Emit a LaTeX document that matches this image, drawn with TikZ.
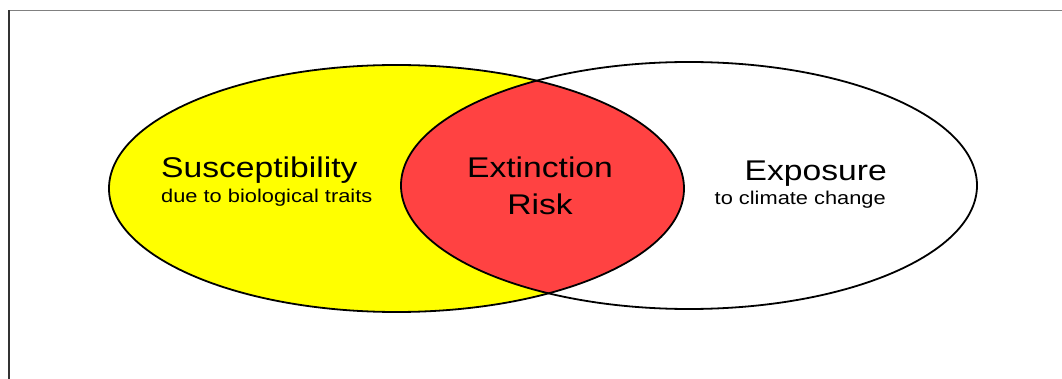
\documentclass[tikz,border=0pt]{standalone}
\usepackage{fontspec}
\usepackage{tikz}
\usetikzlibrary{positioning}
\newfontfamily\vennfont[FakeStretch=1.18]{Liberation Sans}
\definecolor{riskred}{RGB}{255,66,66}
\definecolor{suscyellow}{RGB}{255,255,0}
\tikzstyle{Title}=[inner sep=0, font=\vennfont\fontsize{28.5}{34}\selectfont]
\tikzstyle{Sub}=[inner sep=0, font=\vennfont\fontsize{18.5}{22}\selectfont]
\tikzstyle{Rim}=[draw=black, line width=1.8pt]

\begin{document}
\begin{tikzpicture}[x=1pt, y=-1pt]
    \useasboundingbox (0,0) rectangle (1062,379);
    % frame, cut off at right and bottom
    \coordinate (tl) at (9,10.5);
    \coordinate (tr) at (1062,10.5);
    \coordinate (bl) at (9,379);
    \draw[gray, line width=1.2pt] (tl) -- (tr);
    \draw[black!80, line width=2pt] (tl) -- (bl);

    % the two sets and their overlap
    \fill[suscyellow] (396.5,188.5) ellipse [x radius=287.5, y radius=123.5];
    \begin{scope}
        \clip (396.5,188.5) ellipse [x radius=287.5, y radius=123.5];
        \fill[riskred] (689,185.5) ellipse [x radius=288, y radius=123.5];
    \end{scope}
    \draw[Rim] (396.5,188.5) ellipse [x radius=287.5, y radius=123.5];
    \draw[Rim] (689,185.5) ellipse [x radius=288, y radius=123.5];

    \path
    (161,178) node[Title, anchor=base west] (susc) {Susceptibility}
    (161,203) node[Sub, anchor=base west] (susctxt) {due to biological traits}
    (540,178) node[Title, anchor=base] (ext) {Extinction}
    (540,215) node[Title, anchor=base] (risk) {Risk}
    (887,181) node[Title, anchor=base east] (expo) {Exposure}
    (886,205) node[Sub, anchor=base east] (expotxt) {to climate change};
\end{tikzpicture}
\end{document}
